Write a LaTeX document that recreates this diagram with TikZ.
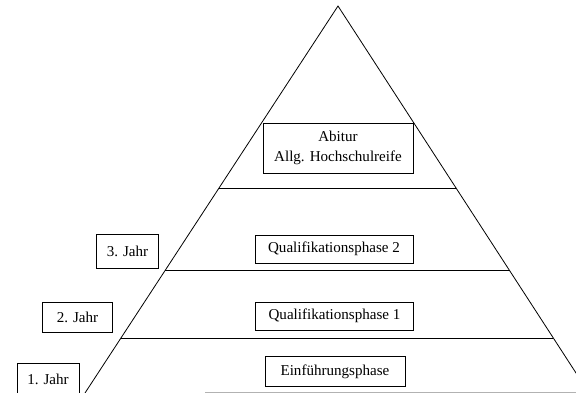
\documentclass[tikz,border=0pt]{standalone}
\usepackage{fontspec}
\setmainfont{Liberation Serif}
\usetikzlibrary{calc}

\begin{document}
\begin{tikzpicture}[x=0.75pt,y=-0.75pt, line width=0.6pt,
  phase/.style={draw, inner sep=1pt, align=center, font=\fontsize{11.3}{15}\selectfont},
  jahr/.style={draw, inner sep=1pt, font=\fontsize{11.3}{15}\selectfont}]

\useasboundingbox (0,0) rectangle (576,393);
\clip (0,0) rectangle (576,393);

\coordinate (top) at (338,6);
\coordinate (bl) at (85,393);
\coordinate (br) at (589,393);

\draw (bl) -- (top) -- (br);

\draw ($(top)!0.4703!(bl)$) -- ($(top)!0.4703!(br)$);
\draw ($(top)!0.6822!(bl)$) -- ($(top)!0.6822!(br)$);
\draw ($(top)!0.8579!(bl)$) -- ($(top)!0.8579!(br)$);
\draw[gray!60] (205,392) -- (576,392);

\node[phase, minimum width=112.5pt, minimum height=37.5pt] (abi) at (338,148) {Abitur\\Allg. Hochschulreife};
\node[phase, minimum width=118.5pt, minimum height=21pt] (q2) at (334,249) {Qualifikationsphase 2};
\node[phase, minimum width=119pt, minimum height=21pt] (q1) at (334.5,316) {Qualifikationsphase 1};
\node[phase, minimum width=105pt, minimum height=23pt] (ein) at (335,371.5) {Einführungsphase};

\node[jahr, minimum width=46pt, minimum height=25pt] (j3) at (127.5,251.5) {3. Jahr};
\node[jahr, minimum width=52pt, minimum height=22pt] (j2) at (77.5,317.5) {2. Jahr};
\node[jahr, minimum width=46.5pt, minimum height=24pt] (j1) at (48,379) {1. Jahr};

\end{tikzpicture}
\end{document}
